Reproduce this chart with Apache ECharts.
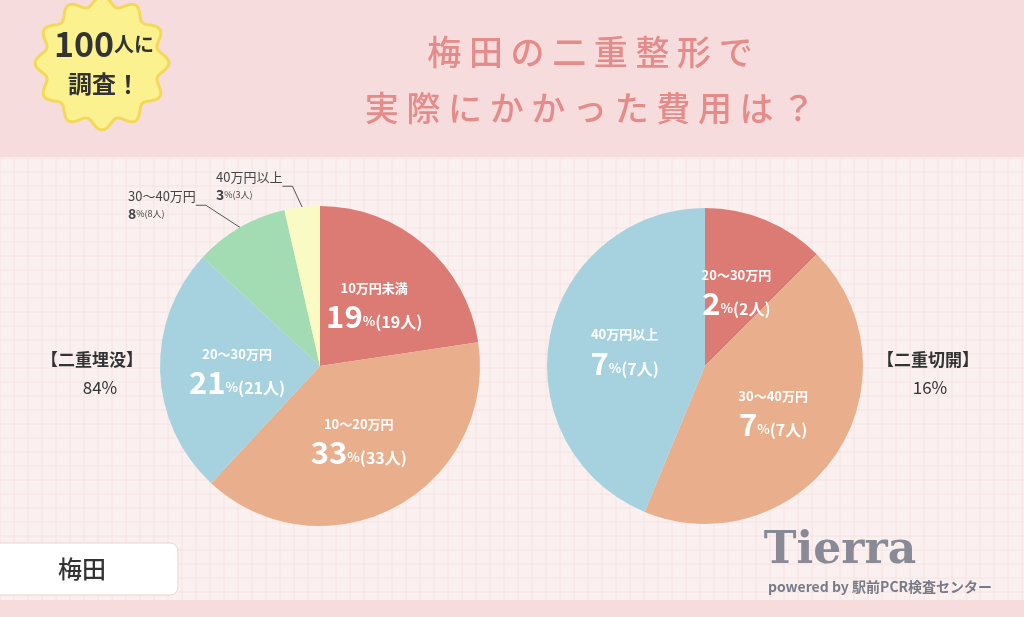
<!DOCTYPE html>
<html><head><meta charset="utf-8">
<script src="https://cdn.jsdelivr.net/npm/echarts@6/dist/echarts.min.js"></script>
<style>html,body{margin:0;padding:0}#c{width:1024px;height:617px}</style></head>
<body><div id="c"></div>
<script>
const leftNames=['10万円未満','10〜20万円','20〜30万円','30〜40万円','40万円以上'];
const leftValues=[19,33,21,8,3];
const leftColors=['#dc7b74','#e9ae8c','#a6d2df','#a3dcb3','#fafac4'];
const rightNames=['20〜30万円','30〜40万円','40万円以上'];
const rightValues=[2,7,7];
const rightColors=['#dc7b74','#e9ae8c','#a6d2df'];
const F='"Noto Sans CJK JP","Noto Sans",sans-serif';
const chart=echarts.init(document.getElementById('c'));
const rich={n:{fontSize:13,color:'#fff',fontWeight:'bold',fontFamily:F,lineHeight:26},
 v:{fontSize:31,color:'#fff',fontWeight:'bold',fontFamily:F},
 p:{fontSize:13,color:'#fff',fontWeight:'bold',fontFamily:F,verticalAlign:'bottom',padding:[0,0,4,0]},
 c:{fontSize:16,color:'#fff',fontWeight:'bold',fontFamily:F,verticalAlign:'bottom',padding:[0,0,2,0]},
 on:{fontSize:13,color:'#444',fontFamily:F,lineHeight:22},
 ov:{fontSize:14,color:'#444',fontWeight:'bold',fontFamily:F},
 op:{fontSize:9,color:'#444',fontFamily:F}};
function mk(names,vals,cols,outside){
 return names.map((n,i)=>{
  const o={name:n,value:vals[i],itemStyle:{color:cols[i]}};
  if(outside&&outside.includes(i)){
   o.label={position:'outside',formatter:p=>`{on|${p.name}}\n{ov|${p.value}}{op|%(${p.value}人)}`,rich,align:'left'};
   o.labelLine={show:true,length:8,length2:10,lineStyle:{color:'#555',width:1}};
  }
  return o;});
}
const bpts=[];for(let k=0;k<=160;k++){const a=k/160*Math.PI*2;const r=62+5*Math.cos(a*12);bpts.push([102+r*Math.cos(a),63+r*Math.sin(a)]);}
const grid=[];for(let x=0;x<1024;x+=14)grid.push({type:'line',shape:{x1:x,y1:158,x2:x,y2:617},style:{stroke:'#f6e2e2',lineWidth:1},silent:true});
for(let y=158;y<617;y+=14)grid.push({type:'line',shape:{x1:0,y1:y,x2:1024,y2:y},style:{stroke:'#f6e2e2',lineWidth:1},silent:true});
chart.setOption({
 backgroundColor:'#fbf0f0',
 graphic:[
  ...grid,
  {type:'rect',shape:{x:0,y:0,width:1024,height:157},style:{fill:'#f6dcdc'},z:-1},
  {type:'rect',shape:{x:0,y:600,width:1024,height:17},style:{fill:'#f6dcdc'}},
  {type:'polygon',shape:{points:bpts},style:{fill:'#fbf28f',stroke:'#f4d85a',lineWidth:3}},
  {type:'text',style:{x:104,y:44,text:'100{s|人に}',align:'center',verticalAlign:'middle',font:'bold 34px '+F,fill:'#333',rich:{s:{fontSize:20,fill:'#333',fontFamily:F,fontWeight:'bold'}}}},
  {type:'text',style:{x:104,y:84,text:'調査！',align:'center',verticalAlign:'middle',font:'bold 24px '+F,fill:'#333'}},
  {type:'text',style:{x:590,y:52,text:'梅 田 の 二 重 整 形 で',align:'center',verticalAlign:'middle',font:'500 34px '+F,fill:'#e58c8a'}},
  {type:'text',style:{x:590,y:108,text:'実 際 に か か っ た 費 用 は ？',align:'center',verticalAlign:'middle',font:'500 34px '+F,fill:'#e58c8a'}},
  {type:'text',style:{x:92,y:360,text:'【二重埋没】',align:'center',verticalAlign:'middle',font:'bold 17px '+F,fill:'#333'}},
  {type:'text',style:{x:100,y:388,text:'84%',align:'center',verticalAlign:'middle',font:'17px '+F,fill:'#333'}},
  {type:'text',style:{x:928,y:360,text:'【二重切開】',align:'center',verticalAlign:'middle',font:'bold 17px '+F,fill:'#333'}},
  {type:'text',style:{x:930,y:388,text:'16%',align:'center',verticalAlign:'middle',font:'17px '+F,fill:'#333'}},
  {type:'rect',shape:{x:-10,y:543,width:188,height:52,r:8},style:{fill:'#fff',stroke:'#e8d4d4'}},
  {type:'text',style:{x:82,y:569,text:'梅田',align:'center',verticalAlign:'middle',font:'500 24px '+F,fill:'#333'}},
  {type:'text',style:{x:840,y:552,text:'Tierra',align:'center',verticalAlign:'middle',font:'bold 44px "DejaVu Serif",serif',fill:'#8a8a96'}},
  {type:'text',style:{x:880,y:587,text:'powered by 駅前PCR検査センター',align:'center',verticalAlign:'middle',font:'bold 14px '+F,fill:'#7a7a86'}}
 ],
 series:[
  {type:'pie',center:[320,366],radius:[0,160],startAngle:90,clockwise:true,
   data:mk(leftNames,leftValues,leftColors,[3,4]),
   label:{show:true,position:'inside',formatter:p=>`{n|${p.name}}\n{v|${p.value}}{p|%}{c|(${p.value}人)}`,rich,align:'center'},
   labelLayout:p=>{ if(p.dataIndex===3)return{x:128,y:203,align:'left',verticalAlign:'middle'};
     if(p.dataIndex===4)return{x:216,y:184,align:'left',verticalAlign:'middle'};return{};},
   emphasis:{disabled:true}},
  {type:'pie',center:[705,366],radius:[0,158],startAngle:90,clockwise:true,
   data:mk(rightNames,rightValues,rightColors),
   label:{show:true,position:'inside',formatter:p=>`{n|${p.name}}\n{v|${p.value}}{p|%}{c|(${p.value}人)}`,rich,align:'center'},
   emphasis:{disabled:true}}
 ]
});
</script></body></html>
